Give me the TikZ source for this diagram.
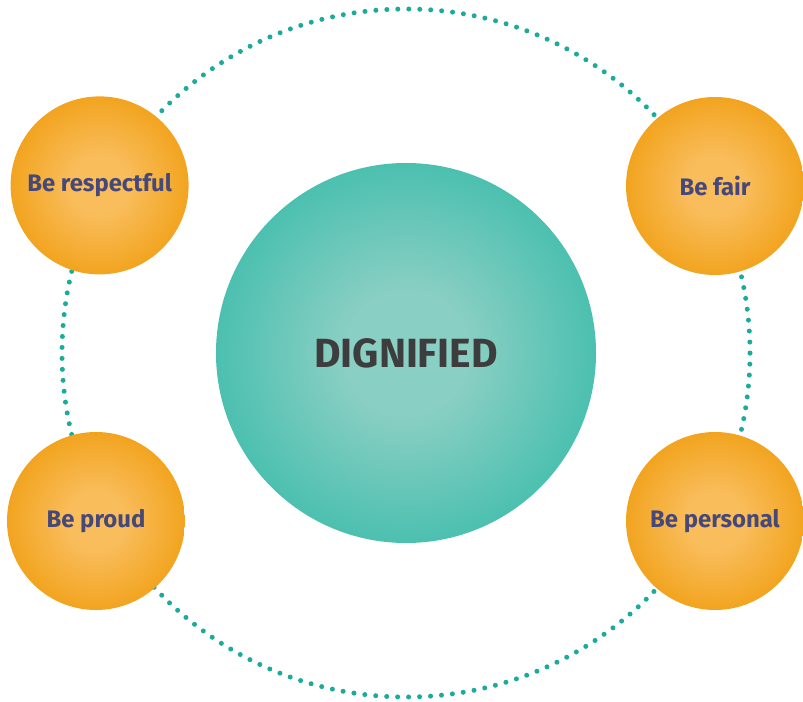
\documentclass[tikz,border=0pt]{standalone}
\usepackage{fontspec}
\setmainfont{Fira Sans}

\definecolor{dotteal}{HTML}{1AAB9B}
\definecolor{labelblue}{HTML}{454879}
\definecolor{titlegrey}{HTML}{3D3D3D}
\definecolor{orangeedge}{HTML}{F2A41F}
\definecolor{orangemid}{HTML}{F9BD5C}
\definecolor{tealedge}{HTML}{4CC0B0}
\definecolor{tealmid}{HTML}{8ACFC3}

% path edge sits at 25bp
\pgfdeclareradialshading{orangeball}{\pgfpoint{0bp}{0bp}}{%
  color(0bp)=(orangemid); color(8bp)=(orangemid); color(25bp)=(orangeedge);
  color(50bp)=(orangeedge)}
\pgfdeclareradialshading{tealball}{\pgfpoint{0bp}{0bp}}{%
  color(0bp)=(tealmid); color(8bp)=(tealmid); color(25bp)=(tealedge);
  color(50bp)=(tealedge)}

\tikzset{
  bubble/.style={circle,inner sep=0pt,minimum size=4.45cm,shading=orangeball,
    text=labelblue,font=\bfseries\fontsize{17}{19}\selectfont},
  core/.style={circle,inner sep=0pt,minimum size=9.5cm,shading=tealball,
    text=titlegrey,font=\bfseries\fontsize{29}{33}\selectfont},
  ring/.style={dotteal,line width=0.125cm,line cap=round,
    dash pattern=on 0pt off 0.2743cm}
}

\begin{document}
\begin{tikzpicture}
    \useasboundingbox (-10.15,-8.7) rectangle (9.925,8.825);
    % dotted ring behind everything
    \draw[ring] (0,0) circle (8.6);
    \node[core] (dignified) at (0,0) {DIGNIFIED};
    \node[bubble] (respectful) at (-7.66,4.19) {Be respectful};
    \node[bubble] (fair) at (7.725,4.175) {Be fair};
    \node[bubble] (proud) at (-7.75,-4.2) {Be proud};
    \node[bubble] (personal) at (7.725,-4.2) {Be personal};
\end{tikzpicture}
\end{document}
